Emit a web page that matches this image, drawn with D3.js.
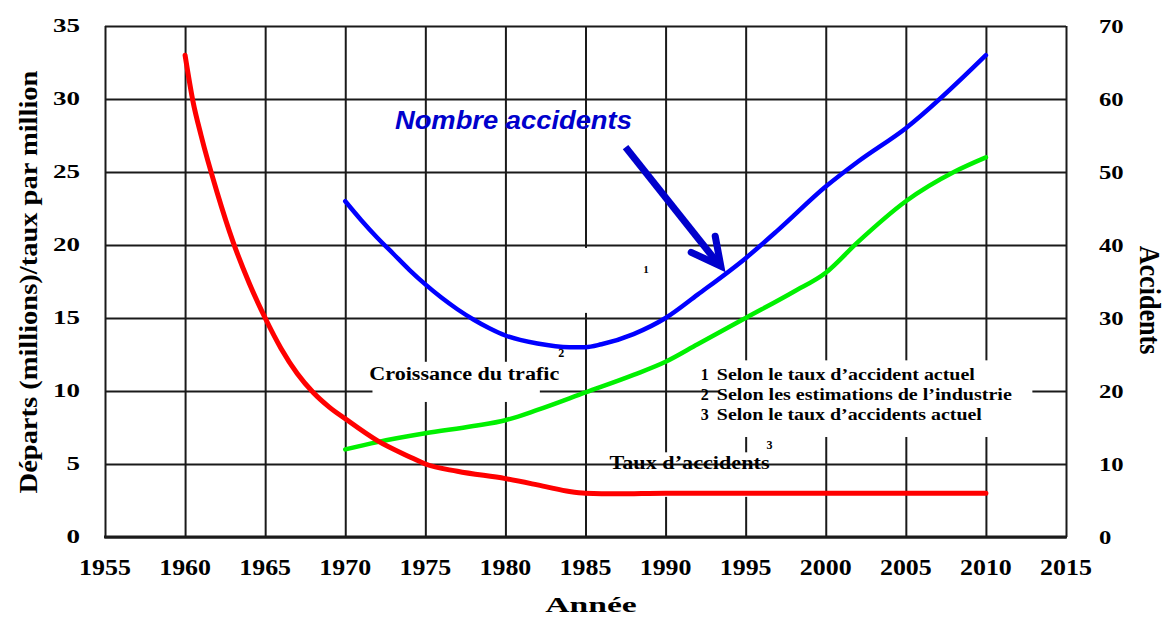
<!DOCTYPE html>
<html>
<head>
<meta charset="utf-8">
<script src="https://cdn.jsdelivr.net/npm/d3@7"></script>
<style>
    body { margin: 0; background: #fff; }
    svg { display: block; font-family: "Liberation Serif", "Times New Roman", serif; font-weight: bold; }
</style>
</head>
<body>
<svg id="chart" width="1165" height="617"></svg>
<script>
// tick labels
const xTicks = [1955, 1960, 1965, 1970, 1975, 1980, 1985, 1990, 1995, 2000, 2005, 2010, 2015];
const leftTicks = [0, 5, 10, 15, 20, 25, 30, 35];
const rightTicks = [0, 10, 20, 30, 40, 50, 60, 70];

// Taux d'accidents (left axis, red)
const tauxYears = [1960, 1960.5, 1961, 1962, 1963, 1964, 1965, 1966, 1967, 1968, 1969, 1970,
    1972, 1974, 1975, 1977, 1980, 1982.5, 1984, 1985, 1987, 1990, 1995, 2000, 2005, 2010];
const tauxValues = [33, 29.8, 27.5, 23.6, 20.2, 17.4, 15.0, 12.9, 11.2, 9.9, 8.9, 8.1,
    6.6, 5.5, 5.0, 4.5, 4.0, 3.45, 3.12, 3.0, 2.96, 3.0, 3.0, 3.0, 3.0, 3.0];

// Croissance du trafic (left axis, green)
const traficYears = [1970, 1972, 1975, 1978, 1980, 1982, 1985, 1988, 1990, 1992, 1995, 1998,
    2000, 2002, 2005, 2008, 2010];
const traficValues = [6.0, 6.5, 7.1, 7.6, 8.0, 8.7, 9.9, 11.1, 12.0, 13.2, 15.0, 16.8,
    18.1, 20.2, 23.0, 25.0, 26.0];

// Nombre accidents (right axis, blue)
const accidentYears = [1970, 1971, 1972, 1973, 1974, 1975, 1976, 1977, 1978, 1979, 1980, 1982,
    1984, 1985, 1986, 1988, 1990, 1992, 1995, 1997, 2000, 2002, 2005, 2010];
const accidentValues = [46, 43.4, 41, 38.8, 36.6, 34.6, 32.8, 31.2, 29.8, 28.6, 27.6, 26.5,
    26, 26, 26.4, 27.8, 30, 33.2, 38.2, 42, 48, 51.4, 56, 66];

const legendLines = ["Selon le taux d\u2019accident actuel",
    "Selon les estimations de l\u2019industrie",
    "Selon le taux d\u2019accidents actuel"];

const m = { left: 105, right: 1066, top: 26, bottom: 537 };
const x = d3.scaleLinear().domain([1955, 2015]).range([m.left, m.right]);
const yL = d3.scaleLinear().domain([0, 35]).range([m.bottom, m.top]);
const yR = d3.scaleLinear().domain([0, 70]).range([m.bottom, m.top]);

const svg = d3.select("#chart");
const gridColor = "#1a1a1a";

// white boxes that cut the grid behind the labels (year / value corners)
function mask(x0, x1, v0, v1) {
    svg.append("rect")
        .attr("x", x(x0)).attr("y", yL(v1))
        .attr("width", x(x1) - x(x0)).attr("height", yL(v0) - yL(v1))
        .attr("fill", "#fff");
}

// vertical grid
const vGrid = svg.append("g")
    .attr("transform", `translate(0,${m.bottom})`)
    .call(d3.axisBottom(x).tickValues(xTicks).tickSize(-(m.bottom - m.top)).tickFormat(""));
vGrid.select(".domain").remove();
vGrid.selectAll("line").attr("stroke", gridColor).attr("stroke-width", 2);

mask(1986.5, 1997.3, 2.75, 5.8);   // behind "Taux d'accidents"

// horizontal grid
const hGrid = svg.append("g")
    .attr("transform", `translate(${m.left},0)`)
    .call(d3.axisLeft(yL).tickValues(leftTicks).tickSize(-(m.right - m.left)).tickFormat(""));
hGrid.select(".domain").remove();
hGrid.selectAll("line").attr("stroke", gridColor).attr("stroke-width", 2);

mask(1984.6, 1989.6, 15.35, 19.8); // behind "1"
mask(1971.7, 1982.15, 9.25, 12.0); // behind "Croissance du trafic"
mask(1993.4, 2012.9, 6.85, 12.1);  // behind the notes

// thicker base line
svg.append("line")
    .attr("x1", x(1955) - 1).attr("x2", x(2015) + 1)
    .attr("y1", yL(0)).attr("y2", yL(0))
    .attr("stroke", gridColor).attr("stroke-width", 3);

// series
const lineL = d3.line().x(d => x(d[0])).y(d => yL(d[1])).curve(d3.curveMonotoneX);
const lineR = d3.line().x(d => x(d[0])).y(d => yR(d[1])).curve(d3.curveMonotoneX);

svg.append("path")
    .attr("d", lineL(d3.zip(traficYears, traficValues)))
    .attr("fill", "none").attr("stroke", "#00f000").attr("stroke-width", 4.5)
    .attr("stroke-linecap", "round");

svg.append("path")
    .attr("d", lineL(d3.zip(tauxYears, tauxValues)))
    .attr("fill", "none").attr("stroke", "#ff0000").attr("stroke-width", 5)
    .attr("stroke-linecap", "round");

svg.append("path")
    .attr("d", lineR(d3.zip(accidentYears, accidentValues)))
    .attr("fill", "none").attr("stroke", "#0000ff").attr("stroke-width", 4.5)
    .attr("stroke-linecap", "round");

// arrow to the blue curve
const arrow = d3.line().x(d => x(d[0])).y(d => yL(d[1]));
svg.append("path")
    .attr("d", arrow([[1987.5, 26.7], [1993.3, 18.7]]))
    .attr("fill", "none").attr("stroke", "#0000cc").attr("stroke-width", 7);
svg.append("path")
    .attr("d", arrow([[1991.6, 19.5], [1993.45, 18.55], [1993.1, 20.6]]))
    .attr("fill", "none").attr("stroke", "#0000cc").attr("stroke-width", 7)
    .attr("stroke-linecap", "round").attr("stroke-linejoin", "miter");

// tick labels
svg.append("g").selectAll("text")
    .data(leftTicks).enter().append("text")
    .attr("transform", d => `translate(${m.left - 25},${yL(d) + 6}) scale(1.5,1)`)
    .attr("text-anchor", "end")
    .attr("font-size", 18)
    .text(d => d);

svg.append("g").selectAll("text")
    .data(rightTicks).enter().append("text")
    .attr("transform", d => `translate(${m.right + 33},${yR(d) + 6.5}) scale(1.3,1)`)
    .attr("text-anchor", "start")
    .attr("font-size", 19)
    .text(d => d);

svg.append("g").selectAll("text")
    .data(xTicks).enter().append("text")
    .attr("transform", d => `translate(${x(d)},${m.bottom + 38}) scale(1.08,1)`)
    .attr("text-anchor", "middle")
    .attr("font-size", 24)
    .text(d => d);

// axis titles
svg.append("text")
    .attr("transform", "translate(591,612) scale(1.6,1)")
    .attr("text-anchor", "middle")
    .attr("font-size", 21)
    .text("Année");

svg.append("text")
    .attr("transform", "translate(37,282) rotate(-90) scale(1.14,1)")
    .attr("text-anchor", "middle")
    .attr("font-size", 25)
    .text("Départs (millions)/taux par million");

svg.append("text")
    .attr("transform", "translate(1140,300) rotate(90) scale(0.9,1)")
    .attr("text-anchor", "middle")
    .attr("font-size", 29)
    .text("Accidents");

// annotations
svg.append("text")
    .attr("x", x(1973.1)).attr("y", 129)
    .attr("font-family", "'Liberation Sans', Arial, sans-serif")
    .attr("font-style", "italic")
    .attr("font-size", 25)
    .attr("fill", "#0000cc")
    .attr("textLength", 237).attr("lengthAdjust", "spacingAndGlyphs")
    .text("Nombre accidents");

svg.append("text")
    .attr("x", x(1971.5)).attr("y", yL(10.75))
    .attr("font-size", 18)
    .attr("textLength", 190).attr("lengthAdjust", "spacingAndGlyphs")
    .text("Croissance du trafic");

svg.append("text")
    .attr("x", x(1986.5)).attr("y", yL(5.0) + 5)
    .attr("font-size", 19)
    .attr("textLength", 160).attr("lengthAdjust", "spacingAndGlyphs")
    .text("Taux d\u2019accidents");

const noteWidths = [258, 295, 265];
const notes = svg.append("g");
legendLines.forEach((t, i) => {
    const base = yL(10) - 11 + i * 20;
    notes.append("text")
        .attr("x", x(1992.2)).attr("y", base)
        .attr("font-size", 16)
        .text(i + 1);
    notes.append("text")
        .attr("x", x(1993.2)).attr("y", base)
        .attr("font-size", 16)
        .attr("textLength", noteWidths[i]).attr("lengthAdjust", "spacingAndGlyphs")
        .text(t);
});

// small curve numbers
svg.append("text").attr("x", x(1983.3)).attr("y", yL(12.3)).attr("font-size", 12).text("2");
svg.append("text").attr("x", x(1988.6)).attr("y", yL(18.1)).attr("font-size", 11).text("1");
svg.append("text").attr("x", x(1996.3)).attr("y", yL(6.05)).attr("font-size", 12).text("3");
</script>
</body>
</html>
